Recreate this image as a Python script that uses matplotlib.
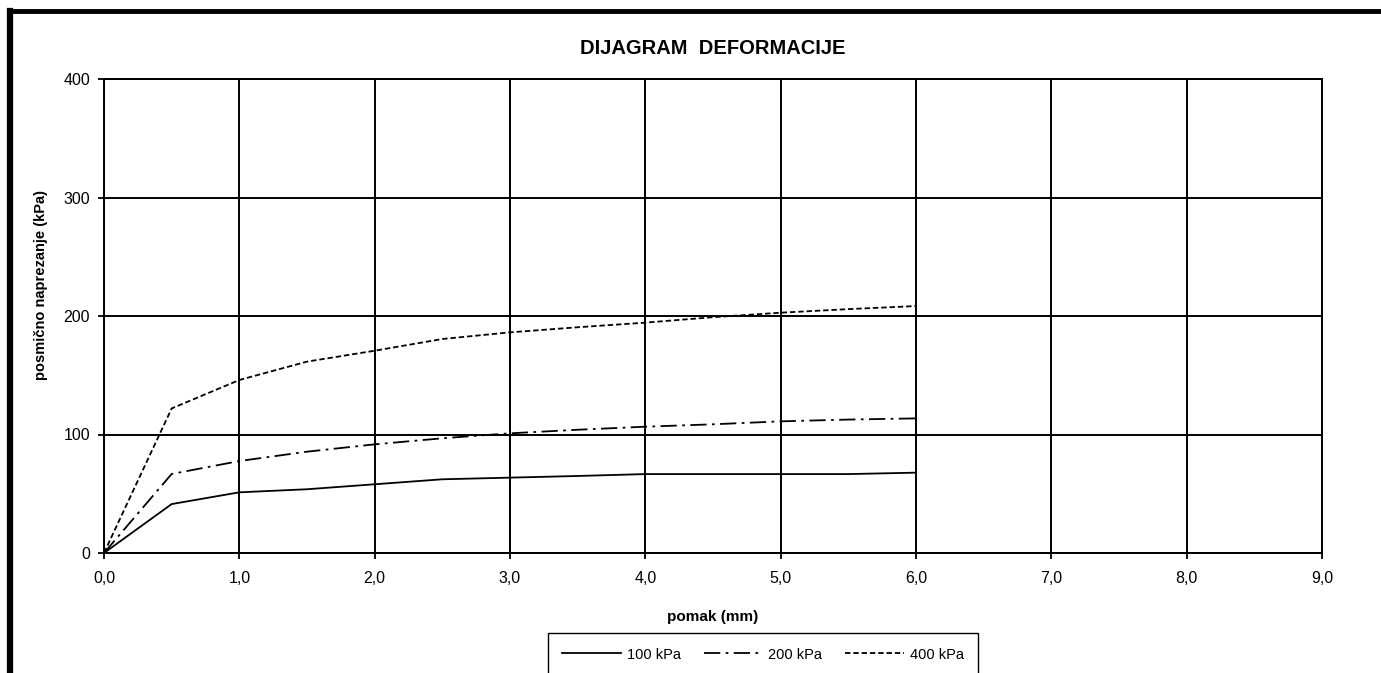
import matplotlib
matplotlib.use("Agg")
import matplotlib.pyplot as plt
from matplotlib.lines import Line2D
from matplotlib.ticker import FuncFormatter, MultipleLocator

plt.rcParams['font.family'] = ['Liberation Sans', 'DejaVu Sans']

# Data
pomak = [0.0, 0.5, 1.0, 1.5, 2.0, 2.5, 3.0, 3.5, 4.0, 4.5, 5.0, 5.5, 6.0]
s100 = [0, 41.3, 51.2, 53.8, 58.0, 62.2, 63.6, 65.0, 66.6, 66.6, 66.6, 66.6, 67.8]
s200 = [0, 66.7, 77.6, 85.5, 91.7, 96.8, 101.0, 104.0, 106.6, 108.6, 111.1, 112.6, 113.6]
s400 = [0, 122.0, 146.0, 161.5, 170.7, 180.6, 186.2, 190.5, 194.4, 199.0, 202.8, 205.8, 208.4]
labels = ['100 kPa', '200 kPa', '400 kPa']
title = 'DIJAGRAM  DEFORMACIJE'
xlabel = 'pomak (mm)'
ylabel = 'posmično naprezanje (kPa)'

fig = plt.figure(figsize=(13.81, 6.73), dpi=100)
W, H = 1381, 673
ax = fig.add_axes([104 / W, 1 - 553 / H, (1322 - 104) / W, (553 - 79) / H])

ax.plot(pomak, s100, color='black', lw=1.3, linestyle='-', label=labels[0])
ax.plot(pomak, s200, color='black', lw=1.3, linestyle=(0, (9, 3, 1.5, 3)), label=labels[1])
ax.plot(pomak, s400, color='black', lw=1.3, linestyle=(0, (3, 1.6)), label=labels[2])

ax.set_xlim(0, 9)
ax.set_ylim(0, 400)
ax.xaxis.set_major_locator(MultipleLocator(1))
ax.yaxis.set_major_locator(MultipleLocator(100))
ax.xaxis.set_major_formatter(FuncFormatter(lambda v, p: f"{v:.1f}".replace('.', ',')))
ax.grid(True, color='black', lw=1.4)
ax.set_axisbelow(True)
for s in ax.spines.values():
    s.set_color('black')
    s.set_linewidth(1.4)
ax.tick_params(direction='out', length=4, width=1.3, labelsize=11.5, colors='black')
ax.tick_params(axis='x', pad=9)
ax.tick_params(axis='y', pad=6)

ax.set_xlabel(xlabel, fontsize=11, fontweight='bold', labelpad=17)
ax.set_ylabel(ylabel, fontsize=10.5, fontweight='bold')
ax.yaxis.set_label_coords(-(104 - 48) / (1322 - 104), (553 - 285) / (553 - 79))
fig.text(713 / W, 1 - 48.5 / H, title, ha='center', va='center', fontsize=14.5, fontweight='bold')

leg = fig.legend(loc='upper center', bbox_to_anchor=(763 / W, 1 - 633 / H), ncol=3,
                 fontsize=10.5, frameon=True, fancybox=False, framealpha=1, edgecolor='black',
                 handlelength=4.0, handletextpad=0.4, columnspacing=1.6, borderpad=1.0,
                 borderaxespad=0)
leg.get_frame().set_linewidth(1.0)

# outer chart border (thick, partially cut by image)
fig.add_artist(Line2D([10 / W, 10 / W], [1 - 11 / H, -0.01], transform=fig.transFigure,
                      color='black', lw=4.5, solid_capstyle='projecting'))
fig.add_artist(Line2D([10 / W, 1.01], [1 - 11 / H, 1 - 11 / H], transform=fig.transFigure,
                      color='black', lw=3.5, solid_capstyle='projecting'))

fig.savefig('out.png', dpi=100)
